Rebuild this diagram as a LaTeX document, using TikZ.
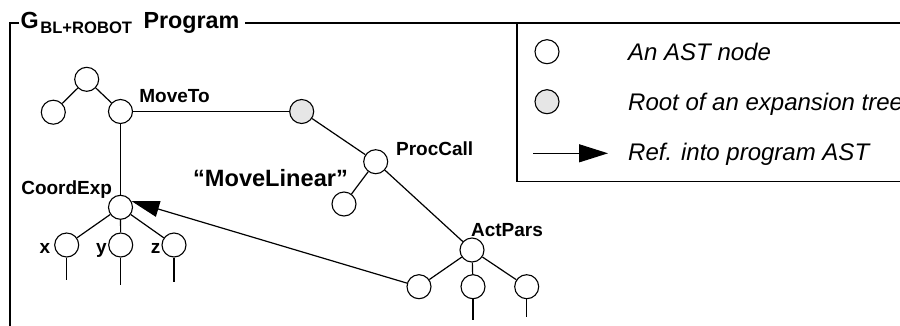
\documentclass[tikz,border=0pt]{standalone}
\usepackage{fontspec}
\setmainfont{Liberation Sans}
\usetikzlibrary{arrows.meta}
\definecolor{rootgrey}{HTML}{E6E6E6}
\begin{document}
\begin{tikzpicture}[x=1pt,y=-1pt,
  ast/.style={circle,draw,line width=1.1pt,minimum size=24pt,inner sep=0pt,fill=white},
  rootnode/.style={ast,fill=rootgrey},
  lbl/.style={font=\fontsize{19}{22}\selectfont\bfseries,inner sep=0pt,anchor=base},
  legtext/.style={font=\fontsize{24}{28}\selectfont\itshape,inner sep=0pt,anchor=base west},
  edge/.style={line width=1.2pt},
  ref/.style={line width=1.2pt,-{Triangle[length=28pt,width=16pt]}},
  legref/.style={line width=1.2pt,-{Triangle[length=29pt,width=18pt]}}]
\clip (0,0) rectangle (900,325);
% frame and title
\node[anchor=base west,inner sep=0pt,font=\fontsize{23.3}{27}\selectfont\bfseries] (title) at (20.5,28.5)
  {G\kern1.5pt\raisebox{-5pt}{\fontsize{16.6}{18}\selectfont BL+ROBOT}\kern5pt{} Program};
\draw[edge] (19,23) -- (10,23) -- (10,330);
\draw[edge] (245,23) -- (517,23);
% legend
\draw[edge,fill=white] (517,23) rectangle (930,181.7);
\node[ast] (l1) at (547,51.7) {};
\node[rootnode] (l2) at (547,101.7) {};
\coordinate (la) at (533,153.3);
\coordinate (lb) at (608,153.3);
\draw[legref] (la) -- (lb);
\node[legtext] (t1) at (628,60.3) {An AST node};
\node[legtext] (t2) at (628,110.3) {Root of an expansion tree};
\node[legtext] (t3) at (628,160.6) {Ref. into program AST};
% program tree
\node[ast] (root) at (86.7,79.3) {};
\node[ast] (lc) at (53.3,112.2) {};
\node[ast] (mt) at (120.5,111.5) {};
\node[rootnode] (gr) at (301.7,111.5) {};
\node[ast] (pc) at (375.7,161.7) {};
\node[ast] (pcc) at (344,204) {};
\node[ast] (ap) at (472,250) {};
\node[ast] (a1) at (419,286.7) {};
\node[ast] (a2) at (473,286.7) {};
\node[ast] (a3) at (526.7,286.7) {};
\node[ast] (ce) at (120.5,207.3) {};
\node[ast] (cx) at (66.7,245) {};
\node[ast] (cy) at (120.7,245) {};
\node[ast] (cz) at (174,245) {};
\coordinate (a2e) at (473,320);
\coordinate (a3e) at (526.7,317);
\coordinate (cxe) at (66.7,280);
\coordinate (cye) at (120.7,285);
\coordinate (cze) at (174,282);
\draw[edge] (root) -- (lc);
\draw[edge] (root) -- (mt);
\draw[edge] (mt) -- (gr);
\draw[edge] (mt) -- (ce);
\draw[edge] (gr) -- (pc);
\draw[edge] (pc) -- (pcc);
\draw[edge] (pc) -- (ap);
\draw[edge] (ap) -- (a1);
\draw[edge] (ap) -- (a2);
\draw[edge] (ap) -- (a3);
\draw[edge] (a2) -- (a2e);
\draw[edge] (a3) -- (a3e);
\draw[edge] (ce) -- (cx);
\draw[edge] (ce) -- (cy);
\draw[edge] (ce) -- (cz);
\draw[edge] (cx) -- (cxe);
\draw[edge] (cy) -- (cye);
\draw[edge] (cz) -- (cze);
\draw[ref] (a1) -- (ce.30);
% labels
\node[lbl] (lmt) at (174.5,102.8) {MoveTo};
\node[lbl] (lce) at (66.7,194.5) {CoordExp};
\node[lbl] (lpc) at (434.7,155) {ProcCall};
\node[lbl] (lap) at (507,236) {ActPars};
\node[lbl] (lx) at (45,253.3) {x};
\node[lbl] (ly) at (101.5,253.3) {y};
\node[lbl] (lz) at (155.5,253.3) {z};
\node[anchor=base,inner sep=0pt,font=\fontsize{23.6}{27}\selectfont\bfseries] (ml) at (270.5,186.7) {“MoveLinear”};
\end{tikzpicture}
\end{document}
